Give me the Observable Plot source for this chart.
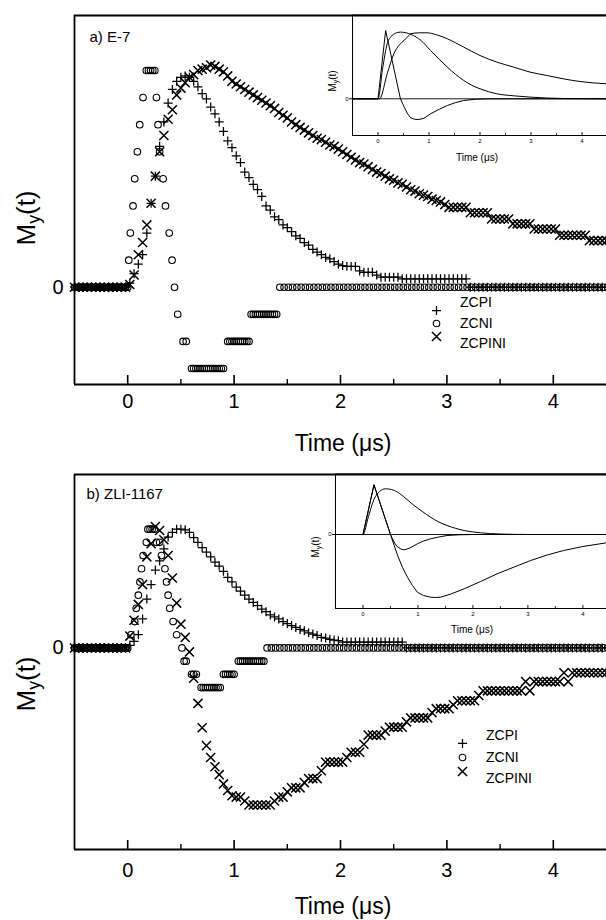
<!DOCTYPE html>
<html><head><meta charset="utf-8">
<script src="https://cdn.jsdelivr.net/npm/d3@7"></script>
<script src="https://cdn.jsdelivr.net/npm/@observablehq/plot@0.6"></script>
<style>
html,body{margin:0;padding:0;background:#fff;}
#root{position:relative;width:606px;height:920px;overflow:hidden;background:#fff;font-family:"Liberation Sans",Arial,Helvetica,sans-serif;color:#000;}
.lbl{position:absolute;white-space:nowrap;line-height:1;transform:translate(-50%,-50%);}
.lbl sub{font-size:68%;vertical-align:-0.28em;line-height:0;}
.leg{position:absolute;white-space:nowrap;line-height:1;transform:translate(0,-50%);}
.wrap{position:absolute;}
</style></head><body><div id="root"></div>
<script>
// ---------- shared axis values ----------
const X_DOMAIN = [-0.5, 4.5];
const MAJOR_TICKS = [0, 1, 2, 3, 4];
const MINOR_TICKS = [0.5, 1.5, 2.5, 3.5];
const SERIES = ["ZCPI", "ZCNI", "ZCPINI"];
const PANEL_LABELS = ["a) E-7", "b) ZLI-1167"];

// sample times shared by ZCPI and ZCPINI (µs)
const sampleT = [-0.50,-0.46,-0.42,-0.38,-0.34,-0.30,-0.26,-0.22,-0.18,-0.14,-0.10,-0.06,-0.02,
 0.02,0.06,0.10,0.14,0.18,0.22,0.26,0.30,0.34,0.38,
 0.42,0.46,0.50,0.54,0.58,0.62,0.66,0.70,0.74,0.78,
 0.82,0.86,0.90,0.94,0.98,1.02,1.06,1.10,1.14,1.18,
 1.22,1.26,1.30,1.34,1.38,1.42,1.46,1.50,1.54,1.58,
 1.62,1.66,1.70,1.74,1.78,1.82,1.86,1.90,1.94,1.98,
 2.02,2.06,2.10,2.14,2.18,2.22,2.26,2.30,2.34,2.38,
 2.42,2.46,2.50,2.54,2.58,2.62,2.66,2.70,2.74,2.78,
 2.82,2.86,2.90,2.94,2.98,3.02,3.06,3.10,3.14,3.18,
 3.22,3.26,3.30,3.34,3.38,3.42,3.46,3.50,3.54,3.58,
 3.62,3.66,3.70,3.74,3.78,3.82,3.86,3.90,3.94,3.98,
 4.02,4.06,4.10,4.14,4.18,4.22,4.26,4.30,4.34,4.38,
 4.42,4.46,4.50];

// ---------- panel a) E-7 ----------
const zcpiA = [0,0,0,0,0,0,0,0,0,0,0,0,0,
 0.15,0.5,0.85,1.2,2.0,3.1,4.1,5.2,6.1,6.8,
 7.3,7.6,7.75,7.8,7.75,7.6,7.4,7.15,6.95,6.65,
 6.4,6.1,5.75,5.4,5.15,4.85,4.6,4.25,4.05,3.8,
 3.6,3.35,3.0,2.85,2.6,2.5,2.3,2.2,2.05,1.9,
 1.8,1.65,1.55,1.4,1.3,1.2,1.1,1.05,0.95,0.85,
 0.8,0.77,0.77,0.77,0.6,0.55,0.55,0.55,0.45,0.37,
 0.37,0.37,0.37,0.37,0.31,0.31,0.31,0.31,0.31,0.31,
 0.31,0.31,0.31,0.31,0.31,0.31,0.31,0.31,0.31,0.31,
 0,0,0,0,0,0,0,0,0,0,
 0,0,0,0,0,0,0,0,0,0,
 0,0,0,0,0,0,0,0,0,0,
 0,0,0];
const zcpiniA = [0,0,0,0,0,0,0,0,0,0,0,0,0,
 0.1,0.45,1.2,1.65,2.3,3.1,4.1,5.0,5.6,6.2,
 6.55,7.1,7.35,7.55,7.75,7.85,8.0,8.05,8.1,8.2,
 8.15,8.05,7.95,7.8,7.6,7.5,7.4,7.3,7.2,7.1,
 7.0,6.9,6.8,6.7,6.6,6.45,6.35,6.25,6.1,6.0,
 5.9,5.8,5.7,5.6,5.5,5.45,5.35,5.25,5.2,5.1,
 5.0,4.9,4.8,4.7,4.6,4.55,4.45,4.35,4.25,4.2,
 4.1,4.0,3.95,3.85,3.8,3.7,3.6,3.55,3.45,3.4,
 3.35,3.25,3.2,3.15,3.05,2.95,2.95,2.95,2.95,2.95,
 2.75,2.75,2.75,2.75,2.75,2.52,2.52,2.52,2.52,2.52,
 2.34,2.34,2.34,2.34,2.34,2.15,2.15,2.15,2.15,2.15,
 2.15,1.92,1.92,1.92,1.92,1.92,1.92,1.92,1.72,1.72,
 1.72,1.72,1.72];
const zcniTA = [-0.50,-0.48,-0.46,-0.44,-0.42,-0.40,-0.38,-0.36,-0.34,-0.32,-0.30,-0.28,-0.26,-0.24,-0.22,-0.20,-0.18,-0.16,-0.14,-0.12,-0.10,-0.08,-0.06,-0.04,-0.02,0.00,
 0.010,0.025,0.050,0.066,0.091,0.113,0.144,
 0.175,0.195,0.215,0.235,0.255,
 0.270,0.285,0.300,0.333,0.355,0.390,0.417,0.440,0.470,0.520,0.550,
 0.60,0.62,0.64,0.66,0.68,0.70,0.72,0.74,0.76,0.78,0.80,0.82,0.84,0.86,0.88,0.90,
 0.94,0.96,0.98,1.00,1.02,1.04,1.06,1.08,1.10,1.12,1.14,
 1.16,1.18,1.20,1.22,1.24,1.26,1.28,1.30,1.32,1.34,1.36,1.38,1.40,
 1.43,1.47,1.51,1.55,1.59,1.63,1.67,1.71,1.75,1.79,
 1.83,1.87,1.91,1.95,1.99,2.03,2.07,2.11,2.15,2.19,
 2.23,2.27,2.31,2.35,2.39,2.43,2.47,2.51,2.55,2.59,
 2.63,2.67,2.71,2.75,2.79,2.83,2.87,2.91,2.95,2.99,
 3.03,3.07,3.11,3.15,3.19,3.23,3.27,3.31,3.35,3.39,
 3.43,3.47,3.51,3.55,3.59,3.63,3.67,3.71,3.75,3.79,
 3.83,3.87,3.91,3.95,3.99,4.03,4.07,4.11,4.15,4.19,
 4.23,4.27,4.31,4.35,4.39,4.43,4.47,4.51];
const zcniVA = [0,0,0,0,0,0,0,0,0,0,0,0,0,0,0,0,0,0,0,0,0,0,0,0,0,0,
 1,2,3,4,5,6,7,
 8,8,8,8,8,
 7,6,5,4,3,2,1,0,-1,-2,-2,
 -3,-3,-3,-3,-3,-3,-3,-3,-3,-3,-3,-3,-3,-3,-3,-3,
 -2,-2,-2,-2,-2,-2,-2,-2,-2,-2,-2,
 -1,-1,-1,-1,-1,-1,-1,-1,-1,-1,-1,-1,-1,
 0,0,0,0,0,0,0,0,0,0,
 0,0,0,0,0,0,0,0,0,0,
 0,0,0,0,0,0,0,0,0,0,
 0,0,0,0,0,0,0,0,0,0,
 0,0,0,0,0,0,0,0,0,0,
 0,0,0,0,0,0,0,0,0,0,
 0,0,0,0,0,0,0,0,0,0,
 0,0,0,0,0,0,0,0];

// ---------- panel b) ZLI-1167 ----------
const zcpiB = [0,0,0,0,0,0,0,0,0,0,0,0,0,
 0.2,0.5,1.0,2.2,3.7,4.8,5.9,6.6,7.5,8.4,
 8.75,9.0,9.0,8.95,8.75,8.35,8.0,7.6,7.25,6.9,
 6.5,6.2,5.8,5.35,5.0,4.6,4.3,4.0,3.7,3.45,
 3.2,2.95,2.75,2.5,2.35,2.2,2.0,1.85,1.7,1.55,
 1.4,1.3,1.15,1.05,0.95,0.8,0.75,0.65,0.6,0.55,
 0.45,0.45,0.45,0.45,0.45,0.45,0.45,0.45,0.45,0.45,
 0.45,0.45,0.45,0.45,0.45,0,0,0,0,0,
 0,0,0,0,0,0,0,0,0,0,
 0,0,0,0,0,0,0,0,0,0,
 0,0,0,0,0,0,0,0,0,0,
 0,0,0,0,0,0,0,0,0,0,
 0,0,0];
const zcpiniB = [0,0,0,0,0,0,0,0,0,0,0,0,0,
 0.9,2.1,3.3,4.8,6.9,7.9,9.2,8.9,8.2,7.0,
 5.3,3.4,1.8,0.8,-0.3,-2.3,-4.2,-6.05,-7.4,-8.3,
 -9.0,-9.6,-10.3,-10.8,-11.2,-11.3,-11.3,-11.6,-11.9,-11.9,
 -11.9,-11.9,-11.9,-11.9,-11.6,-11.3,-11.3,-10.9,-10.6,-10.6,
 -10.6,-10.2,-9.9,-9.9,-9.9,-9.3,-8.65,-8.65,-8.65,-8.65,
 -8.65,-8.3,-7.9,-7.9,-7.9,-7.3,-6.6,-6.6,-6.6,-6.6,
 -6.3,-6.0,-6.0,-6.0,-6.0,-5.6,-5.3,-5.3,-5.3,-5.3,
 -5.3,-4.9,-4.6,-4.6,-4.6,-4.6,-4.3,-4.0,-4.0,-4.0,
 -4.0,-4.0,-3.6,-3.25,-3.25,-3.25,-3.25,-3.25,-3.25,-3.25,
 -3.25,-3.25,-3.25,-2.55,-3.25,-2.55,-2.55,-2.55,-2.55,-2.55,
 -2.55,-2.55,-1.88,-2.55,-1.88,-1.88,-1.88,-1.88,-1.88,-1.88,
 -1.88,-1.88,-1.88];
const zcniTB = [-0.50,-0.48,-0.46,-0.44,-0.42,-0.40,-0.38,-0.36,-0.34,-0.32,-0.30,-0.28,-0.26,-0.24,-0.22,-0.20,-0.18,-0.16,-0.14,-0.12,-0.10,-0.08,-0.06,-0.04,-0.02,0.00,
 0.030,0.066,0.080,0.100,0.115,0.130,0.145,0.175,
 0.190,0.210,0.230,0.250,
 0.270,0.300,0.317,0.350,0.365,0.380,0.395,0.427,0.460,0.510,0.530,0.550,0.600,0.620,0.645,
 0.69,0.71,0.73,0.75,0.77,0.79,0.81,0.83,0.85,0.87,
 0.90,0.92,0.94,0.96,0.98,1.00,
 1.04,1.06,1.08,1.10,1.12,1.14,1.16,1.18,1.20,1.22,1.24,1.26,1.28,
 1.31,1.35,1.39,1.43,1.47,1.51,1.55,1.59,1.63,1.67,
 1.71,1.75,1.79,1.83,1.87,1.91,1.95,1.99,2.03,2.07,
 2.11,2.15,2.19,2.23,2.27,2.31,2.35,2.39,2.43,2.47,
 2.51,2.55,2.59,2.63,2.67,2.71,2.75,2.79,2.83,2.87,
 2.91,2.95,2.99,3.03,3.07,3.11,3.15,3.19,3.23,3.27,
 3.31,3.35,3.39,3.43,3.47,3.51,3.55,3.59,3.63,3.67,
 3.71,3.75,3.79,3.83,3.87,3.91,3.95,3.99,4.03,4.07,
 4.11,4.15,4.19,4.23,4.27,4.31,4.35,4.39,4.43,4.47,
 4.51];
const zcniVB = [0,0,0,0,0,0,0,0,0,0,0,0,0,0,0,0,0,0,0,0,0,0,0,0,0,0,
 1,2,3,4,5,6,7,8,
 9,9,9,9,
 8,8,7,6,5,4,3,2,1,0,-1,-1,-2,-2,-2,
 -3,-3,-3,-3,-3,-3,-3,-3,-3,-3,
 -2,-2,-2,-2,-2,-2,
 -1,-1,-1,-1,-1,-1,-1,-1,-1,-1,-1,-1,-1,
 0,0,0,0,0,0,0,0,0,0,
 0,0,0,0,0,0,0,0,0,0,
 0,0,0,0,0,0,0,0,0,0,
 0,0,0,0,0,0,0,0,0,0,
 0,0,0,0,0,0,0,0,0,0,
 0,0,0,0,0,0,0,0,0,0,
 0,0,0,0,0,0,0,0,0,0,
 0,0,0,0,0,0,0,0,0,0,
 0];

// ---------- inset curves (model) ----------
const INSET_MAJOR = [0, 1, 2, 3, 4];
const INSET_MINOR = [0.5, 1.5, 2.5, 3.5];
const insA_zcniT = [-0.5,0,0.15,0.44,0.52,0.58,0.64,0.72,0.80,0.90,1.03,1.20,1.36,1.52,1.68,1.90,2.20,4.48];
const insA_zcniV = [0,0,6.83,0,-0.9,-1.5,-1.9,-2.05,-2.07,-1.95,-1.5,-1.05,-0.67,-0.38,-0.17,-0.05,0,0];
const insA_zcpiT = [-0.5,0,0.09,0.18,0.26,0.34,0.44,0.55,0.64,0.85,1.03,1.20,1.36,1.52,1.68,1.84,2.0,2.33,2.66,2.98,3.63,4.48];
const insA_zcpiV = [0,0,3.0,5.5,6.25,6.55,6.67,6.6,6.45,5.8,4.83,3.95,3.17,2.45,1.83,1.35,1.0,0.5,0.3,0.17,0.03,0];
const insA_zcpiniT = [-0.5,0.03,0.18,0.31,0.42,0.51,0.58,0.64,0.80,0.96,1.15,1.36,1.52,1.68,2.0,2.33,2.66,2.98,3.31,3.63,3.96,4.48];
const insA_zcpiniV = [0,0,2.5,4.5,5.4,5.83,6.2,6.5,6.6,6.6,6.4,6.0,5.6,5.17,4.33,3.67,3.17,2.67,2.33,2.0,1.73,1.5];

const insB_zcniT = [-0.5,0,0.2,0.5,0.56,0.62,0.70,0.76,0.85,0.99,1.10,1.23,1.38,1.53,1.75,2.0,4.43];
const insB_zcniV = [0,0,4.97,0,-0.7,-1.2,-1.48,-1.53,-1.35,-0.93,-0.65,-0.43,-0.25,-0.1,-0.03,0,0];
const insB_zcpiT = [-0.5,0,0.1,0.2,0.3,0.41,0.52,0.63,0.78,0.93,1.08,1.23,1.38,1.53,1.84,2.14,2.5,3.0,4.43];
const insB_zcpiV = [0,0,1.8,3.5,4.3,4.57,4.5,4.23,3.6,2.9,2.3,1.73,1.25,0.9,0.4,0.17,0.05,0,0];
const insB_zcpiniT = [-0.5,0,0.2,0.5,0.63,0.72,0.81,0.90,0.99,1.10,1.23,1.32,1.41,1.60,1.84,2.14,2.44,2.75,3.05,3.35,3.65,4.0,4.43];
const insB_zcpiniV = [0,0,4.97,0,-2.1,-3.3,-4.27,-5.1,-5.77,-6.1,-6.27,-6.3,-6.27,-5.95,-5.43,-4.7,-3.93,-3.25,-2.6,-2.05,-1.6,-1.2,-0.83];

// ---------- helpers ----------
const FONT = '"Liberation Sans", Arial, Helvetica, sans-serif';
const root = document.getElementById("root");
const intFmt = d => String(Math.round(d));
function pair(ts, vs) {
  if (ts.length !== vs.length) console.warn("length mismatch", ts.length, vs.length);
  const n = Math.min(ts.length, vs.length);
  return Array.from({length: n}, (_, i) => ({t: ts[i], v: vs[i]}));
}
function put(svg, left, top, width) {
  const d = document.createElement("div");
  d.className = "wrap"; d.style.left = left + "px"; d.style.top = top + "px"; d.style.width = width + "px";
  d.appendChild(svg); root.appendChild(d);
}
function label(html, cx, cy, size, rotate) {
  const d = document.createElement("div");
  d.className = "lbl"; d.innerHTML = html;
  d.style.left = cx + "px"; d.style.top = cy + "px"; d.style.fontSize = size + "px";
  if (rotate) d.style.transform = "translate(-50%,-50%) rotate(-90deg)";
  root.appendChild(d);
}
function legendText(text, left, cy, size) {
  const d = document.createElement("div");
  d.className = "leg"; d.textContent = text;
  d.style.left = left + "px"; d.style.top = cy + "px"; d.style.fontSize = size + "px";
  root.appendChild(d);
}
const SYM = {
  ZCPI: {symbol: "plus", r: 3.0, strokeWidth: 1.25},
  ZCNI: {symbol: "circle", r: 3.3, strokeWidth: 1.1},
  ZCPINI: {symbol: "times", r: 4.2, strokeWidth: 1.5}
};

function mainPanel(cfg) {
  const plotH = cfg.height - cfg.marginTop - cfg.marginBottom;
  const dots = (data, key) => Plot.dot(data, {x: "t", y: "v", symbol: SYM[key].symbol, r: SYM[key].r,
    fill: "none", stroke: "black", strokeWidth: SYM[key].strokeWidth});
  return Plot.plot({
    width: 606, height: cfg.height,
    marginLeft: 74, marginRight: 0, marginTop: cfg.marginTop, marginBottom: cfg.marginBottom,
    x: {domain: X_DOMAIN}, y: {domain: cfg.yDomain},
    style: {fontFamily: FONT, color: "black", background: "transparent", overflow: "visible"},
    marks: [
      dots(cfg.zcni, "ZCNI"),
      dots(cfg.zcpi, "ZCPI"),
      dots(cfg.zcpini, "ZCPINI"),
      Plot.ruleX([X_DOMAIN[0]], {stroke: "black", strokeWidth: 1.8}),
      Plot.ruleY([cfg.yDomain[0]], {stroke: "black", strokeWidth: 1.8}),
      Plot.ruleY([cfg.yDomain[1]], {stroke: "black", strokeWidth: 1.8}),
      Plot.ruleX(MAJOR_TICKS, {stroke: "black", strokeWidth: 1.6, insetTop: plotH - 9}),
      Plot.ruleX(MINOR_TICKS, {stroke: "black", strokeWidth: 1.4, insetTop: plotH - 5}),
      Plot.axisX({ticks: MAJOR_TICKS, tickFormat: intFmt, tickSize: 0, tickPadding: cfg.tickPadding, fontSize: 20, label: null}),
      Plot.axisY({ticks: [0], tickFormat: intFmt, tickSize: 0, tickPadding: 11, fontSize: 20, label: null}),
      Plot.text([cfg.title], {frameAnchor: "top-left", dx: cfg.titleDx, dy: cfg.titleDy,
        textAnchor: "start", lineAnchor: "middle", fontSize: 15})
    ]
  });
}

function insetPanel(cfg) {
  const plotH = cfg.height - cfg.marginTop - cfg.marginBottom;
  const ln = (data, curve) => Plot.line(data, {x: "t", y: "v", stroke: "black", strokeWidth: 1, curve});
  return Plot.plot({
    width: cfg.width, height: cfg.height,
    marginLeft: cfg.marginLeft, marginRight: 0, marginTop: cfg.marginTop, marginBottom: cfg.marginBottom,
    x: {domain: cfg.xDomain}, y: {domain: cfg.yDomain},
    style: {fontFamily: FONT, color: "black", background: "transparent", overflow: "visible"},
    marks: [
      Plot.frame({fill: "white", stroke: "none"}),
      Plot.ruleY([0], {stroke: "black", strokeWidth: 0.9}),
      ln(cfg.zcni, "linear"),
      ln(cfg.zcpi, cfg.zcpiCurve),
      ln(cfg.zcpini, cfg.zcpiniCurve),
      Plot.ruleX([cfg.xDomain[0]], {stroke: "black", strokeWidth: 1}),
      Plot.ruleY([cfg.yDomain[0]], {stroke: "black", strokeWidth: 1}),
      Plot.ruleY([cfg.yDomain[1]], {stroke: "black", strokeWidth: 1.8}),
      Plot.ruleX(INSET_MAJOR, {stroke: "black", strokeWidth: 0.9, insetTop: plotH - 3}),
      Plot.ruleX(INSET_MINOR, {stroke: "black", strokeWidth: 0.8, insetTop: plotH - 2}),
      Plot.axisX({ticks: INSET_MAJOR, tickFormat: intFmt, tickSize: 0, tickPadding: 3, fontSize: 6, label: null}),
      Plot.axisY({ticks: [0], tickFormat: intFmt, tickSize: 3, tickPadding: 1, fontSize: 6, label: null})
    ]
  });
}

function legendPlot(spacing) {
  const items = (key) => Plot.dot([key], {y: d => d, frameAnchor: "left", dx: 10,
    symbol: SYM[key].symbol, r: SYM[key].r, fill: "none", stroke: "black", strokeWidth: SYM[key].strokeWidth});
  return Plot.plot({
    width: 30, height: 24 + 2 * spacing, margin: 0,
    y: {type: "point", domain: SERIES, range: [12, 12 + 2 * spacing], axis: null},
    style: {fontFamily: FONT, color: "black", background: "transparent", overflow: "visible"},
    marks: [items("ZCPI"), items("ZCNI"), items("ZCPINI")]
  });
}

// ---------- panel a ----------
put(mainPanel({height: 460, marginTop: 15, marginBottom: 76, yDomain: [-3.59, 10.03], tickPadding: 9,
  zcni: pair(zcniTA, zcniVA), zcpi: pair(sampleT, zcpiA), zcpini: pair(sampleT, zcpiniA),
  title: PANEL_LABELS[0], titleDx: 15, titleDy: 22}), 0, 0, 606);
put(insetPanel({width: 306, height: 175, marginLeft: 52, marginTop: 15, marginBottom: 40,
  xDomain: [-0.5, 4.48], yDomain: [-3.67, 8.33],
  zcni: pair(insA_zcniT, insA_zcniV), zcpi: pair(insA_zcpiT, insA_zcpiV), zcpini: pair(insA_zcpiniT, insA_zcpiniV),
  zcpiCurve: "monotone-x", zcpiniCurve: "monotone-x"}), 300, 0, 306);
put(legendPlot(20.5), 426, 290, 30);
SERIES.forEach((s, i) => legendText(s, 460, 302 + i * 20.5, 14));
label("M<sub>y</sub>(t)", 26, 218, 26, true);
label("Time (μs)", 343, 443, 23, false);
label("M<sub>y</sub>(t)", 333, 81, 10, true);
label("Time (μs)", 477, 158, 10, false);

// ---------- panel b ----------
put(mainPanel({height: 460, marginTop: 14, marginBottom: 71, yDomain: [-15.27, 13.14], tickPadding: 13,
  zcni: pair(zcniTB, zcniVB), zcpi: pair(sampleT, zcpiB), zcpini: pair(sampleT, zcpiniB),
  title: PANEL_LABELS[1], titleDx: 12, titleDy: 20}), 0, 460, 606);
put(insetPanel({width: 321, height: 180, marginLeft: 50, marginTop: 14, marginBottom: 32,
  xDomain: [-0.5, 4.43], yDomain: [-7.4, 6.0],
  zcni: pair(insB_zcniT, insB_zcniV), zcpi: pair(insB_zcpiT, insB_zcpiV), zcpini: pair(insB_zcpiniT, insB_zcpiniV),
  zcpiCurve: "monotone-x", zcpiniCurve: "linear"}), 285, 460, 321);
put(legendPlot(21.6), 452, 723, 30);
SERIES.forEach((s, i) => legendText(s, 486, 735 + i * 21.6, 14));
label("M<sub>y</sub>(t)", 26, 684, 26, true);
label("Time (μs)", 343, 906, 23, false);
label("M<sub>y</sub>(t)", 316, 547, 10, true);
label("Time (μs)", 472, 630, 10, false);
</script></body></html>
